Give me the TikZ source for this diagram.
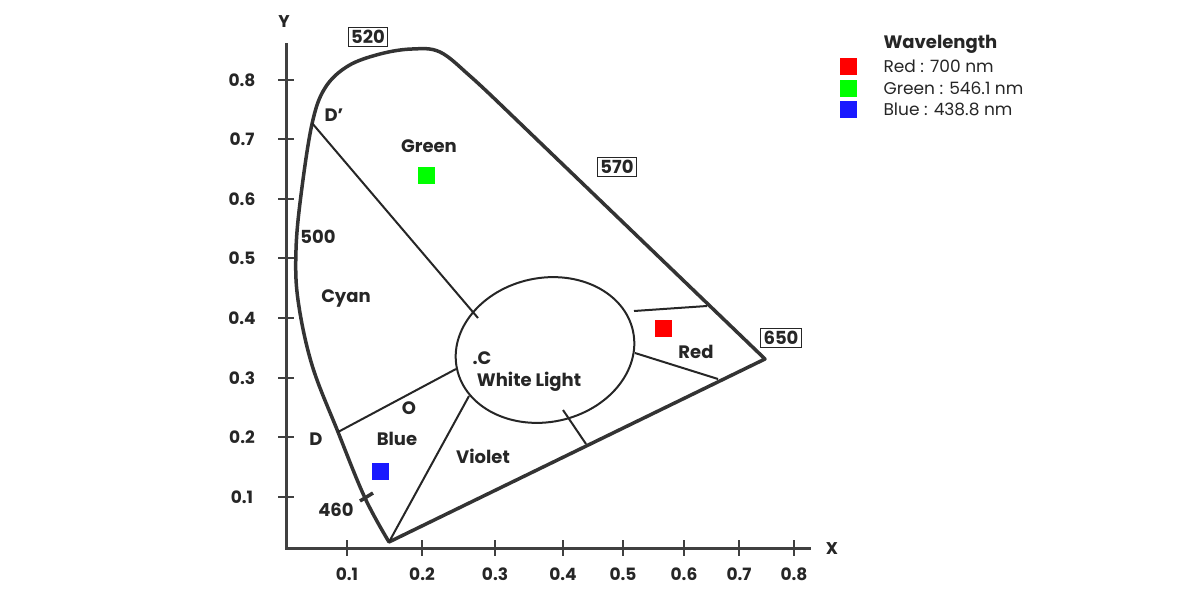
\documentclass[tikz,border=0pt]{standalone}
\usepackage{fontspec}
\setmainfont{Poppins}
\usetikzlibrary{shapes.geometric}
\begin{document}
\begin{tikzpicture}[x=1pt,y=-1pt,
 lbl/.style={font=\bfseries\fontsize{18}{20}\selectfont,text=black!85},
 tk/.style={font=\bfseries\fontsize{17}{19}\selectfont,text=black!85},
 boxl/.style={lbl,draw=black!85,line width=1.2pt,inner sep=3pt},
 thin/.style={line width=2pt,draw=black!85},
 thick/.style={line width=3.5pt,draw=black!80},
 sq/.style={minimum size=17pt,inner sep=0pt}]
\useasboundingbox (0,0) rectangle (1200,600);
% axes
\draw[line width=3pt,black!75] (286,43) -- (286,548) -- (811,548);
\foreach \x/\l in {347/0.1,422/0.2,495/0.3,563/0.4,623/0.5,684/0.6,739/0.7,794/0.8}
  {\draw[line width=2.4pt,black!75] (\x,540) -- (\x,556); \node[tk] at (\x,574) {\l};}
\foreach \y/\l in {80/0.8,139/0.7,199/0.6,258/0.5,318/0.4,378/0.3,437/0.2,497/0.1}
  {\draw[line width=2.4pt,black!75] (278,\y) -- (294,\y); \node[tk] at (242,\y) {\l};}
\node[tk] (yl) at (284,22) {Y};
\node[tk] (xl) at (832,549) {X};
% horseshoe
\draw[thick,line join=round] plot[smooth,tension=0.6] coordinates {(389,542) (365,498) (338,432) (312,365) (298,300) (296,250) (301,195) (312,124) (325,88) (348,66) (380,54) (412,49) (440,52) (470,76) (500,104)} -- (765,359) -- cycle;
\draw[thick] (360,501) -- (373,493);
% ellipse
\node[draw=black!85,line width=2pt,ellipse,minimum width=180pt,minimum height=144pt,inner sep=0pt,rotate=12] (wl) at (545,350) {};
\coordinate (Dp) at (312,123);
\coordinate (D) at (338,432);
\coordinate (apex) at (389,542);
\draw[thin] (Dp) -- (478,318);
\draw[thin] (D) -- (456,369);
\draw[thin] (apex) -- (469,396);
\draw[thin] (563,410) -- (586,444);
\draw[thin] (634,311) -- (707,306);
\draw[thin] (635,353) -- (718,379);
% labels
\node[boxl] (b520) at (368,37) {520};
\node[boxl] (b570) at (617,167) {570};
\node[boxl] (b650) at (781,338) {650};
\node[lbl] at (334,115) {D’};
\node[lbl] at (429,146) {Green};
\node[lbl] at (318,237) {500};
\node[lbl] at (346,298) {Cyan};
\node[lbl] at (482,358) {.C};
\node[lbl] at (529,382) {White Light};
\node[lbl] at (696,352) {Red};
\node[lbl] at (409,408) {O};
\node[lbl] at (316,439) {D};
\node[lbl] at (397,439) {Blue};
\node[lbl] at (483,456) {Violet};
\node[lbl] at (336,510) {460};
\node[sq,fill=green] (gs) at (426,175) {};
\node[sq,fill=blue!90] (bs) at (380,471) {};
\node[sq,fill=red] (rs) at (663,328) {};
% legend
\node[lbl,anchor=west] at (880,44) {Wavelength};
\node[sq,fill=red] at (848,66) {};
\node[sq,fill=green] at (848,88) {};
\node[sq,fill=blue!90] at (848,109) {};
\begin{scope}[every node/.style={anchor=west,font=\fontsize{17}{19}\selectfont,text=black!85}]
\node at (880,66) {Red : 700 nm};
\node at (880,88) {Green : 546.1 nm};
\node at (880,109) {Blue : 438.8 nm};
\end{scope}
\end{tikzpicture}
\end{document}
